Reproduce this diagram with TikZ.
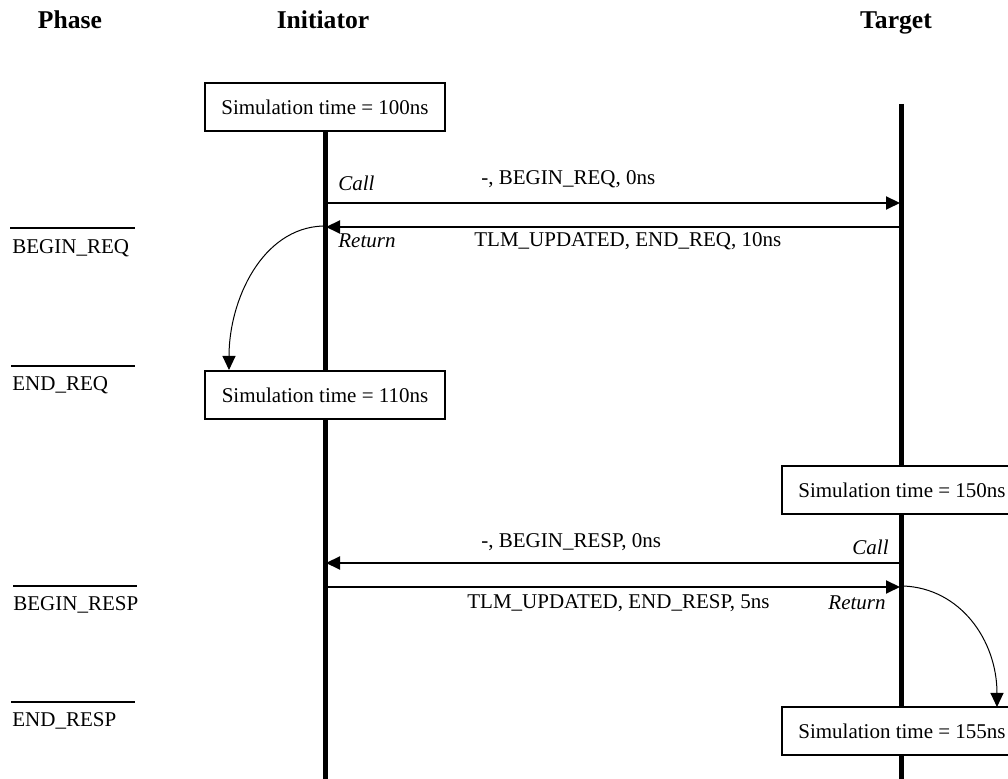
\documentclass[tikz,border=0pt]{standalone}
\usepackage{fontspec}
\setmainfont{Liberation Serif}
\usetikzlibrary{arrows.meta}
\begin{document}
\begin{tikzpicture}[x=0.5pt,y=-0.5pt,
  every node/.style={font=\fontsize{10.5}{12.6}\selectfont, inner sep=0pt},
  header/.style={font=\fontsize{12.8}{15}\selectfont\bfseries, anchor=base},
  simbox/.style={draw, line width=1pt, minimum width=120pt, minimum height=24pt, fill=white},
  lifeline/.style={line width=2.5pt},
  msg/.style={line width=1pt},
  msgtip/.style={-{Triangle[length=7pt,width=6.5pt]}},
  phaseline/.style={line width=1.2pt},
  curvy/.style={line width=0.5pt, -{Triangle[length=7pt,width=6.5pt]}},
  lbl/.style={font=\fontsize{10.5}{12.6}\selectfont\itshape}
]
\useasboundingbox (0,0) rectangle (1008,779);
\clip (0,0) rectangle (1008,779);

% headers
\node[header] (hphase) at (70,29) {Phase};
\node[header] (hinit) at (323,29) {Initiator};
\node[header] (htarget) at (896,29) {Target};

% lifeline coordinates
\coordinate (itop) at (325,130);
\coordinate (ibot) at (325,779);
\coordinate (ttop) at (901,104);
\coordinate (tbot) at (901,779);
\draw[lifeline] (itop) -- (ibot);
\draw[lifeline] (ttop) -- (tbot);

% simulation time boxes
\node[simbox] (b100) at (325,107) {Simulation time = 100ns};
\node[simbox] (b110) at (325,395) {Simulation time = 110ns};
\node[simbox] (b150) at (902,490) {Simulation time = 150ns};
\node[simbox] (b155) at (902,731) {Simulation time = 155ns};

% phase markers
\coordinate (p1a) at (10,228); \coordinate (p1b) at (135,228);
\coordinate (p2a) at (11,366); \coordinate (p2b) at (135,366);
\coordinate (p3a) at (13,586); \coordinate (p3b) at (137,586);
\coordinate (p4a) at (11,702); \coordinate (p4b) at (135,702);
\draw[phaseline] (p1a) -- (p1b);
\draw[phaseline] (p2a) -- (p2b);
\draw[phaseline] (p3a) -- (p3b);
\draw[phaseline] (p4a) -- (p4b);
\node[anchor=west] (ph1) at (12,248) {BEGIN\_REQ};
\node[anchor=west] (ph2) at (12,385) {END\_REQ};
\node[anchor=west] (ph3) at (13,605) {BEGIN\_RESP};
\node[anchor=west] (ph4) at (12,721) {END\_RESP};

% request messages
\coordinate (ic1) at (326,203); \coordinate (tc1) at (900,203);
\coordinate (tr1) at (900,227); \coordinate (ir1) at (326,227);
\draw[msg,msgtip] (ic1) -- (tc1);
\draw[msg,msgtip] (tr1) -- (ir1);
\node[lbl,anchor=west] (call1) at (338,183) {Call};
\node[lbl,anchor=west] (ret1) at (338,241) {Return};
\node[anchor=west] (m1) at (481,179) {-, BEGIN\_REQ, 0ns};
\node[anchor=west] (m2) at (474,241) {TLM\_UPDATED, END\_REQ, 10ns};
\coordinate (c1s) at (323,226);
\coordinate (c1e) at (229,370);
\draw[curvy] (c1s) .. controls (262,228) and (229,300) .. (c1e);

% response messages
\coordinate (tc2) at (900,563); \coordinate (ic2) at (326,563);
\coordinate (ir2) at (326,587); \coordinate (tr2) at (900,587);
\draw[msg,msgtip] (tc2) -- (ic2);
\draw[msg,msgtip] (ir2) -- (tr2);
\node[lbl,anchor=east] (call2) at (889,547) {Call};
\node[lbl,anchor=east] (ret2) at (886,603) {Return};
\node[anchor=west] (m3) at (481,542) {-, BEGIN\_RESP, 0ns};
\node[anchor=west] (m4) at (467,603) {TLM\_UPDATED, END\_RESP, 5ns};
\coordinate (c2s) at (903,586);
\coordinate (c2e) at (997,707);
\draw[curvy] (c2s) .. controls (960,588) and (997,640) .. (c2e);
\end{tikzpicture}
\end{document}
